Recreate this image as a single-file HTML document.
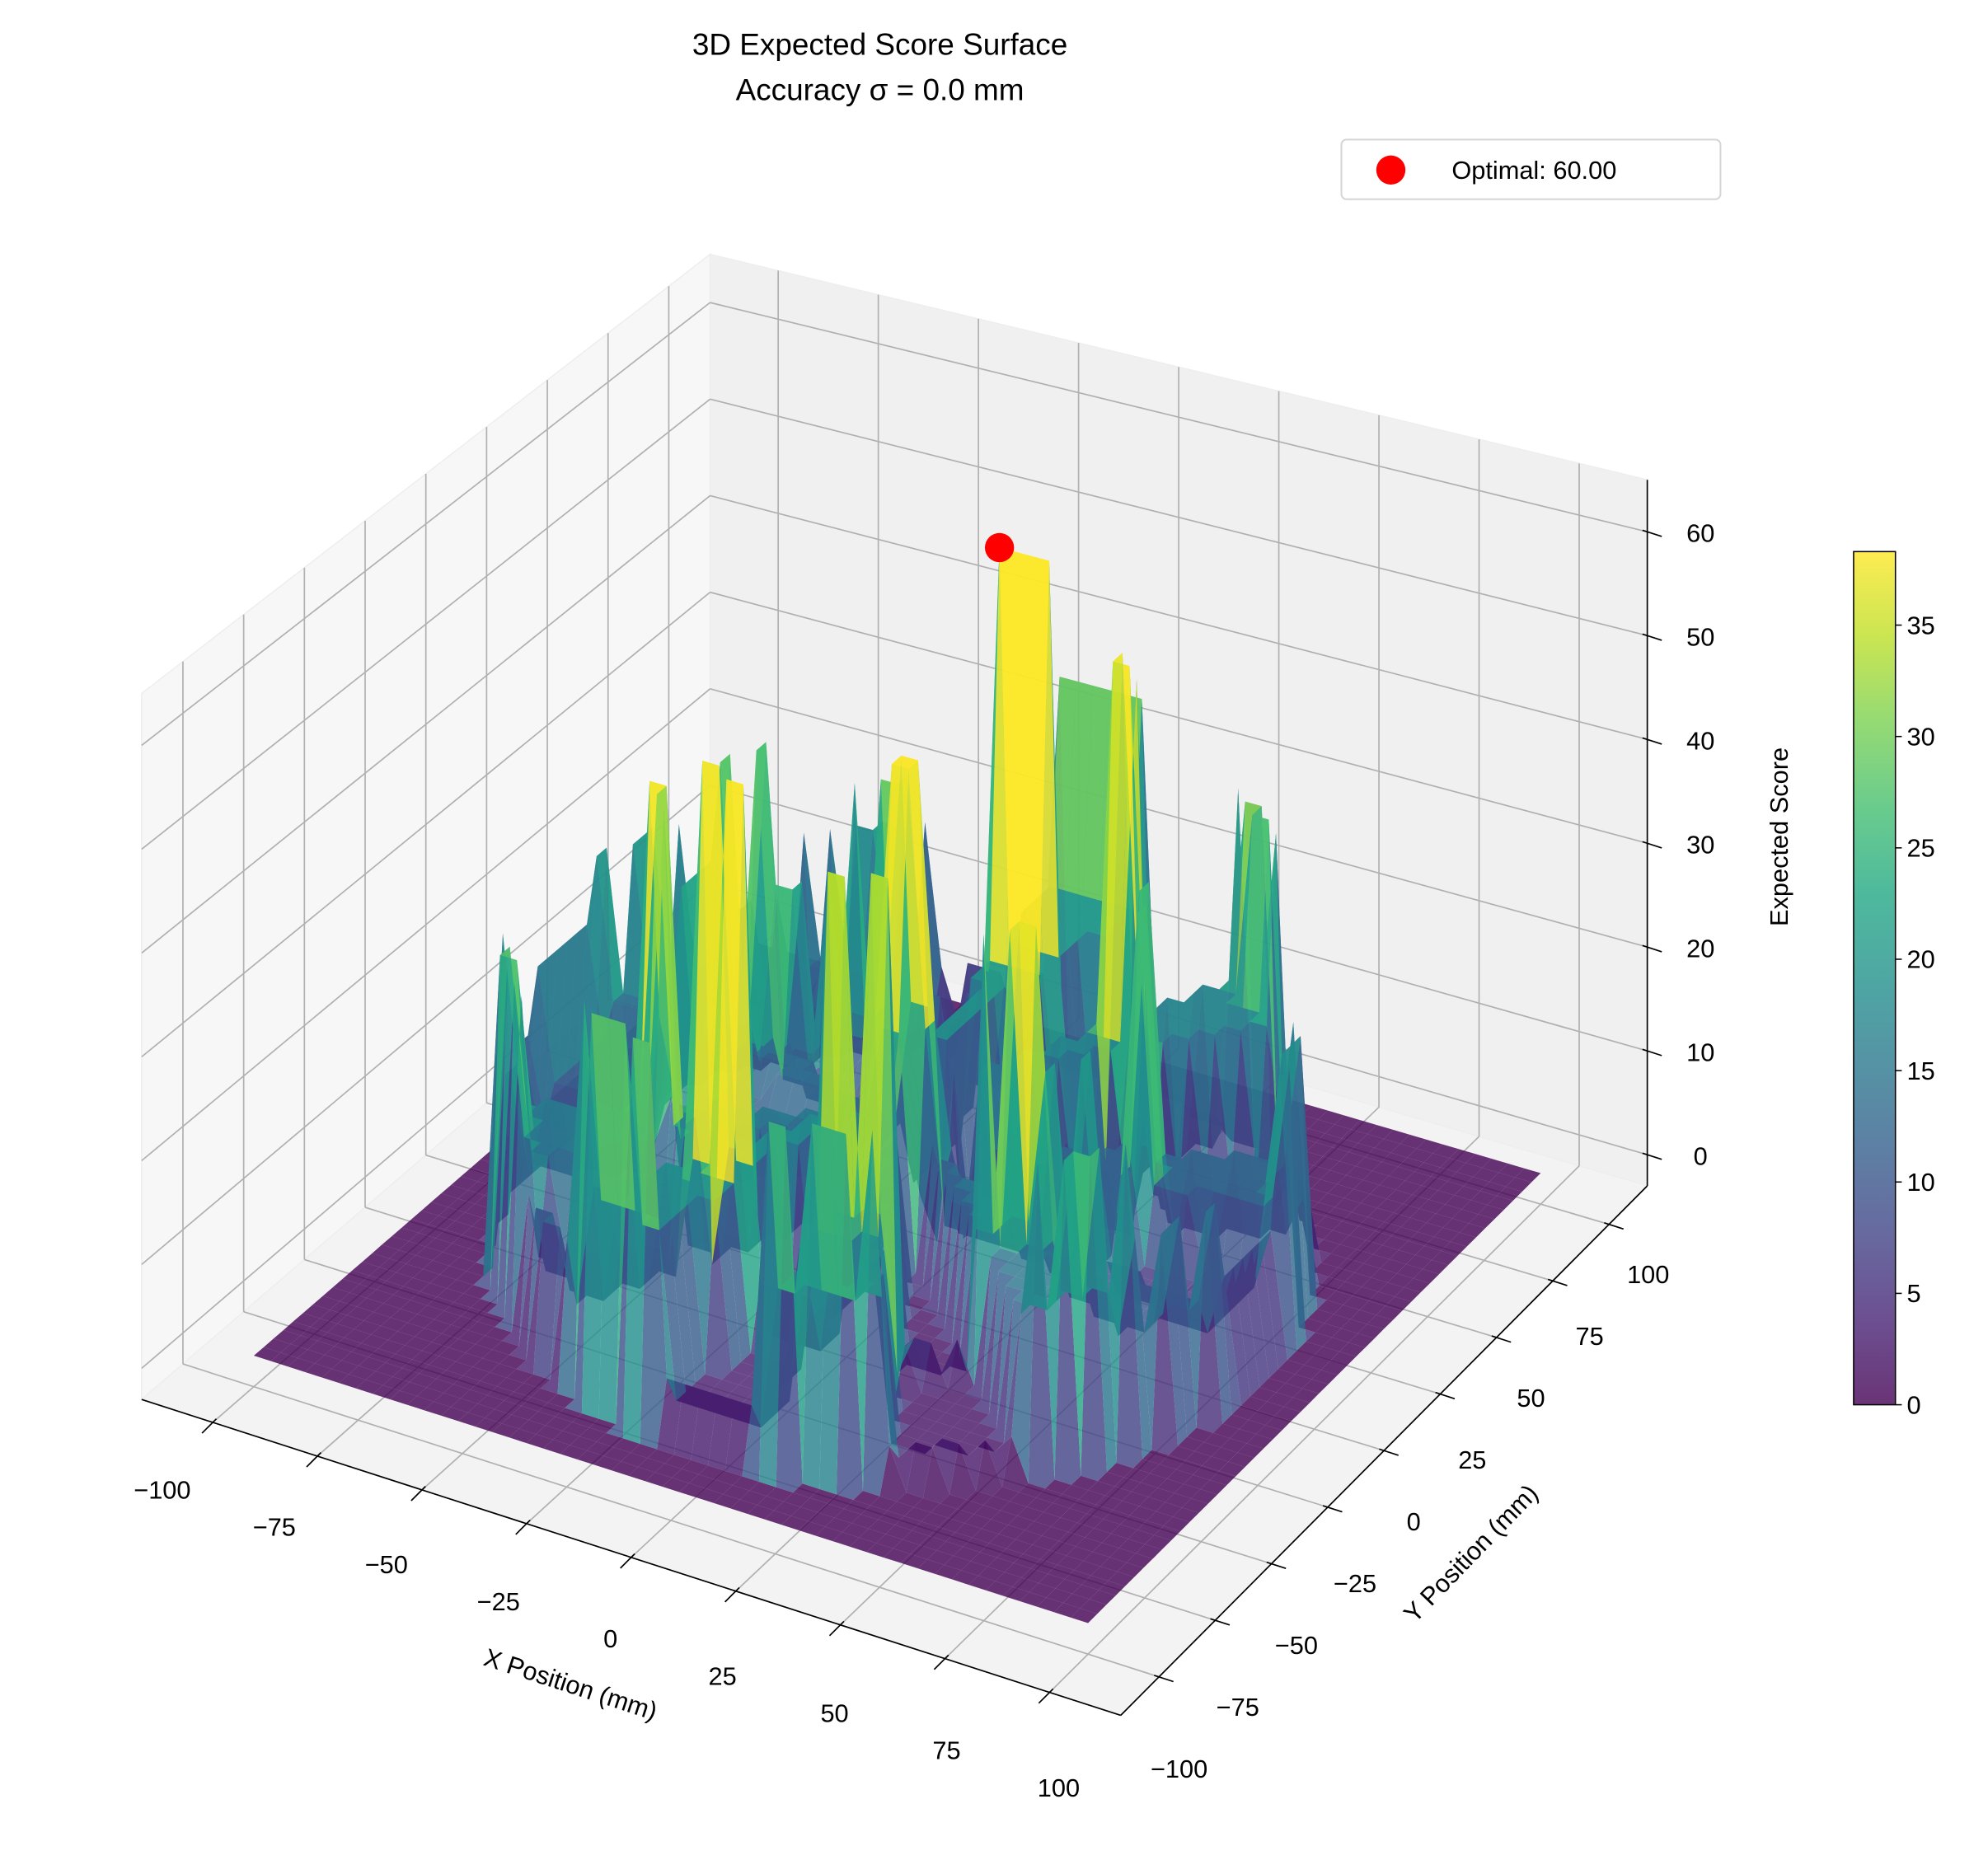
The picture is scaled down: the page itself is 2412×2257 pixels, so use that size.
<!DOCTYPE html>
<html><head><meta charset="utf-8"><title>3D Expected Score Surface</title>
<style>
html,body{margin:0;padding:0;background:#fff;}
svg{display:block;font-family:"Liberation Sans","DejaVu Sans",sans-serif;}
</style></head>
<body>
<svg id="chart" width="2412" height="2257" viewBox="0 0 1568 1467" xmlns="http://www.w3.org/2000/svg">
  <rect x="0" y="0" width="1568" height="1467" fill="#ffffff"/>
  <g id="panes"></g>
  <g id="grid"></g>
  <g id="surface"></g>
  <g id="axes"></g>
  <g id="marker"></g>
  <text x="694" y="43" font-size="24" text-anchor="middle" fill="#000">3D Expected Score Surface</text>
  <text x="694" y="79" font-size="24" text-anchor="middle" fill="#000">Accuracy σ = 0.0 mm</text>
  <g>
    <rect x="1058" y="110" width="299" height="47" rx="4" fill="#fff" stroke="#d5d5d5" stroke-width="1.3"/>
    <circle cx="1097" cy="134" r="11.5" fill="#ff0000"/>
    <text x="1145" y="141" font-size="20" fill="#000">Optimal: 60.00</text>
  </g>
  <text x="1410" y="660" font-size="20" text-anchor="middle" fill="#000" transform="rotate(-90 1410 660)">Expected Score</text>
  <text x="448" y="1335" font-size="20" text-anchor="middle" fill="#000" transform="rotate(18 448 1335)">X Position (mm)</text>
  <text x="1165" y="1230" font-size="20" text-anchor="middle" fill="#000" transform="rotate(-46 1165 1230)">Y Position (mm)</text>
  <defs>
    <linearGradient id="cbgrad" x1="0" y1="1" x2="0" y2="0">
      <stop offset="0" stop-color="#440154"/><stop offset="0.1" stop-color="#482475"/>
      <stop offset="0.2" stop-color="#414487"/><stop offset="0.3" stop-color="#355f8d"/>
      <stop offset="0.4" stop-color="#2a788e"/><stop offset="0.5" stop-color="#21918c"/>
      <stop offset="0.6" stop-color="#22a884"/><stop offset="0.7" stop-color="#44bf70"/>
      <stop offset="0.8" stop-color="#7ad151"/><stop offset="0.9" stop-color="#bddf26"/>
      <stop offset="1" stop-color="#fde725"/>
    </linearGradient>
  </defs>
  <g id="colorbar">
    <rect x="1462" y="435" width="33" height="673" fill="url(#cbgrad)" fill-opacity="0.8"/>
    <rect x="1462" y="435" width="33" height="673" fill="none" stroke="#000" stroke-width="1"/>
  </g>
</svg>
<script>
// ---- data ----
const sectorOrder = [20,1,18,4,13,6,10,15,2,17,3,19,7,16,8,11,14,9,12,5];
const ringRadii = [3.3, 8.2, 50.0, 54.2, 82.0, 86.0]; // bull, outer bull, treble in/out, double in/out (mm)
const gridCount = 50;
const gridMin = -100, gridMax = 100;
const xTicks = [-100,-75,-50,-25,0,25,50,75,100];
const yTicks = [-100,-75,-50,-25,0,25,50,75,100];
const zTicks = [0,10,20,30,40,50,60];
const cbTicks = [0,5,10,15,20,25,30,35];
const colorMax = 38.3;

const NS = "http://www.w3.org/2000/svg";
const B = 117, ZMIN = -3, ZMAX = 65;
function proj(x,y,z){
  const u=(x+B)/(2*B), v=(y+B)/(2*B), w=(1-u)*v;
  return [705.5+3.3*x+1.775*y+33*w, 995+1.065*x-1.785*y+34*w-8.19*z*(1-0.07*w)];
}
function mk(tag, attrs, parent){
  const e=document.createElementNS(NS,tag);
  for(const k in attrs) e.setAttribute(k,attrs[k]);
  parent.appendChild(e); return e;
}
const vir=["#440154","#482475","#414487","#355f8d","#2a788e","#21918c","#22a884","#44bf70","#7ad151","#bddf26","#fde725"];
function hex(h){return [1,3,5].map(i=>parseInt(h.substr(i,2),16));}
function viridis(t){
  t=Math.max(0,Math.min(1,t)); const f=t*10, i=Math.min(9,Math.floor(f)), r=f-i;
  const a=hex(vir[i]), b=hex(vir[i+1]);
  return "rgb("+a.map((c,k)=>Math.round(c+(b[k]-c)*r)).join(",")+")";
}
function score(x,y){
  const r=Math.hypot(x,y);
  if(r<=ringRadii[0]) return 50;
  if(r<=ringRadii[1]) return 25;
  if(r>ringRadii[5]) return 0;
  let ang=90-Math.atan2(y,x)*180/Math.PI; ang=((ang+9)%360+360)%360;
  const s=sectorOrder[Math.floor(ang/18)%20];
  if(r>=ringRadii[2]&&r<=ringRadii[3]) return 3*s;
  if(r>=ringRadii[4]) return 2*s;
  return s;
}
function pts(arr){return arr.map(p=>p[0].toFixed(1)+","+p[1].toFixed(1)).join(" ");}

// ---- panes ----
const panes=document.getElementById("panes");
let el;
el=mk("polygon",{points:pts([proj(-B,-B,ZMIN),proj(-B,B,ZMIN),proj(-B,B,ZMAX),proj(-B,-B,ZMAX)]),fill:"#f7f7f7",stroke:"#eeeeee","stroke-width":1},panes);


el=mk("polygon",{points:pts([proj(-B,B,ZMIN),proj(B,B,ZMIN),proj(B,B,ZMAX),proj(-B,B,ZMAX)]),fill:"#f0f0f0",stroke:"#eeeeee","stroke-width":1},panes);


el=mk("polygon",{points:pts([proj(-B,-B,ZMIN),proj(B,-B,ZMIN),proj(B,B,ZMIN),proj(-B,B,ZMIN)]),fill:"#f3f3f3",stroke:"#eeeeee","stroke-width":1},panes);



// ---- grid ----
const grid=document.getElementById("grid");
function gl(a,b,name){
  const e=mk("line",{x1:a[0],y1:a[1],x2:b[0],y2:b[1],stroke:"#b0b0b0","stroke-width":1.1},grid);
  
  
}
xTicks.forEach(v=>{ gl(proj(v,-B,ZMIN),proj(v,B,ZMIN),'floor-grid-x'); gl(proj(v,B,ZMIN),proj(v,B,ZMAX),'back-grid-x'); });
yTicks.forEach(v=>{ gl(proj(-B,v,ZMIN),proj(B,v,ZMIN),'floor-grid-y'); gl(proj(-B,v,ZMIN),proj(-B,v,ZMAX),'left-grid-y'); });
zTicks.forEach(v=>{ gl(proj(-B,-B,v),proj(-B,B,v),'left-grid-z'); gl(proj(-B,B,v),proj(B,B,v),'back-grid-z'); });

// ---- surface ----
const surf=document.getElementById("surface");
const xs=[],Z=[];
for(let i=0;i<gridCount;i++) xs.push(gridMin+(gridMax-gridMin)*i/(gridCount-1));
let best={z:-1,x:0,y:0};
for(let i=0;i<gridCount;i++){Z.push([]);for(let j=0;j<gridCount;j++){const z=score(xs[i],xs[j]);Z[i].push(z);if(z>best.z)best={z:z,x:xs[i],y:xs[j]};}}
const cells=[];
for(let i=0;i<gridCount-1;i++)for(let j=0;j<gridCount-1;j++){
  const c=[[xs[i],xs[j],Z[i][j]],[xs[i+1],xs[j],Z[i+1][j]],[xs[i+1],xs[j+1],Z[i+1][j+1]],[xs[i],xs[j+1],Z[i][j+1]]];
  const zavg=(c[0][2]+c[1][2]+c[2][2]+c[3][2])/4;
  const cx=(xs[i]+xs[i+1])/2, cy=(xs[j]+xs[j+1])/2;
  const depth=0.866*(0.5*cx-0.866*cy)/234+0.5*zavg/68*0.75;
  cells.push({c:c,zavg:zavg,depth:depth});
}
cells.sort((a,b)=>a.depth-b.depth);
cells.forEach(cell=>{
  const p=mk("polygon",{points:pts(cell.c.map(q=>proj(q[0],q[1],q[2]))),fill:viridis(cell.zavg/colorMax),"fill-opacity":0.8},surf);
  
  
});

// ---- optimal marker ----
const mp=proj(best.x,best.y,best.z);
el=mk("circle",{cx:mp[0],cy:mp[1],r:11.5,fill:"#ff0000"},document.getElementById("marker"));



// ---- axes ----
const axes=document.getElementById("axes");
function al(a,b,name,w){
  const e=mk("line",{x1:a[0],y1:a[1],x2:b[0],y2:b[1],stroke:"#000","stroke-width":w||1.1},axes);
  
  
}
function tx(x,y,s,name,anchor){
  const e=mk("text",{x:x,y:y,"font-size":20,"text-anchor":anchor||"middle",fill:"#000"},axes);
  e.textContent=s;
  
  
}
function lab(v){return v<0?"\u2212"+(-v):String(v);}
al(proj(-B,-B,ZMIN),proj(B,-B,ZMIN),'x-axis-line');
al(proj(B,-B,ZMIN),proj(B,B,ZMIN),'y-axis-line');
al(proj(B,B,ZMIN),proj(B,B,ZMAX),'z-axis-line');
xTicks.forEach((v,k)=>{
  const p=proj(v,-B,ZMIN);
  al([p[0]+2.8,p[1]-2.8],[p[0]-8.5,p[1]+8.5],'x-tick');
  const t=(v-xTicks[0])/(xTicks[xTicks.length-1]-xTicks[0]);
  tx(128+(835-128)*t,1182+(1417-1182)*t,lab(v),'x-tick-label');
});
yTicks.forEach(v=>{
  const p=proj(B,v,ZMIN);
  al([p[0]-3.8,p[1]-1.2],[p[0]+11.4,p[1]+3.7],'y-tick');
  const t=(v-yTicks[0])/(yTicks[yTicks.length-1]-yTicks[0]);
  tx(930+(1300-930)*t,1402+(1012-1402)*t,lab(v),'y-tick-label');
});
zTicks.forEach(v=>{
  const p=proj(B,B,v);
  al([p[0]-3.8,p[1]-1.2],[p[0]+11.4,p[1]+3.7],'z-tick');
  tx(p[0]+42,p[1]+8,lab(v),'z-tick-label');
});
// colorbar ticks
const cb=document.getElementById("colorbar");
cbTicks.forEach(v=>{
  const y=1108-673*v/colorMax;
  const l=mk("line",{x1:1495,y1:y,x2:1500,y2:y,stroke:"#000","stroke-width":1},cb);
  
  
  const t=mk("text",{x:1504,y:y+7,"font-size":20,fill:"#000"},cb);
  t.textContent=String(v);
  
  
});
</script>
</body></html>
